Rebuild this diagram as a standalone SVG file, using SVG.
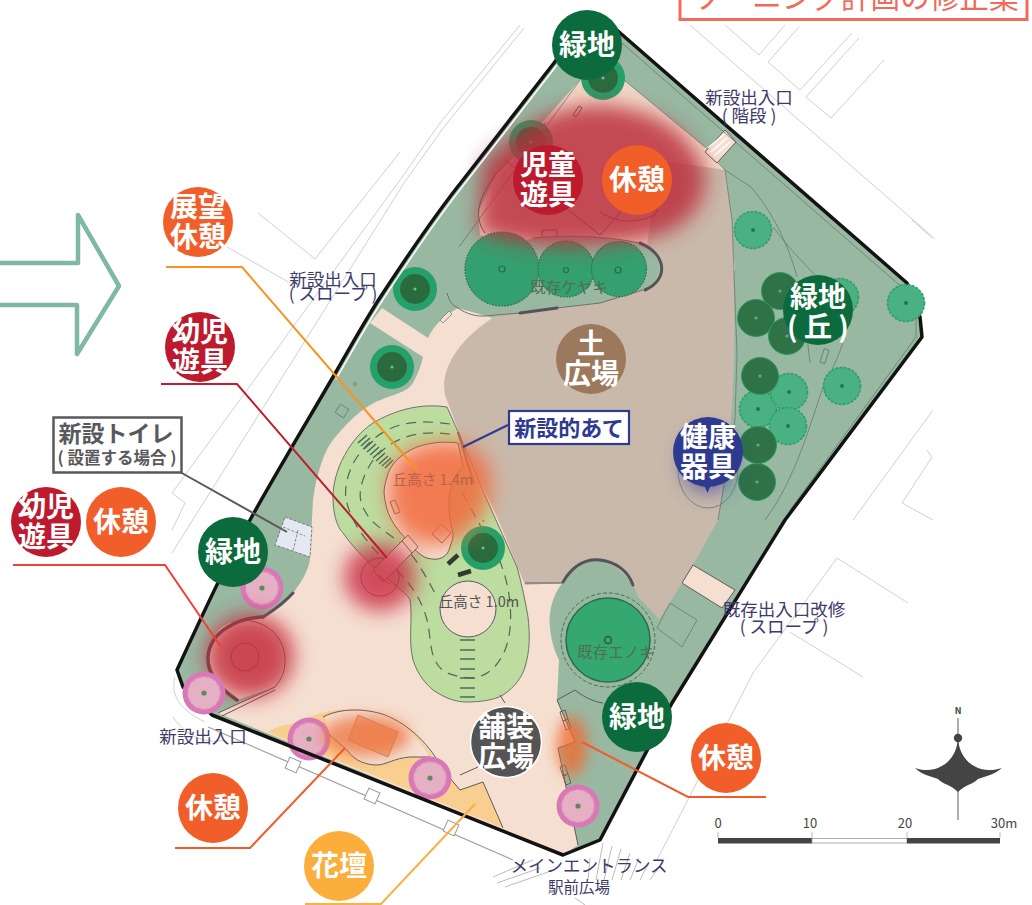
<svg xmlns="http://www.w3.org/2000/svg" width="1032" height="905" viewBox="0 0 1032 905">
<style>
text{font-family:"Noto Sans CJK JP","Noto Sans",sans-serif}
.site{fill:none;stroke:#c4c4c4;stroke-width:.8}
.thin{fill:none;stroke:#5f7468;stroke-width:.7}
.edge{fill:none;stroke:#5e5a5c;stroke-width:1}
.thick{fill:none;stroke:#55535a;stroke-width:3;stroke-linecap:round}
.dash{fill:none;stroke:#4d6b57;stroke-width:1.2;stroke-dasharray:10 7}
.lab{fill:#fff;font-weight:700;font-size:28px;text-anchor:middle}
.plan{fill:#3e3a6c;font-size:17.5px;text-anchor:middle}
.tree3{font-size:15.5px;text-anchor:middle;fill:#4f6f50}
.lead{fill:none;stroke-width:2}
.g{fill:#0b6b3c}.r{fill:#bd1a2e}.o{fill:#f25e29}.a{fill:#fcae3c}.b{fill:#9c785c}.n{fill:#2e3a8f}.k{fill:#545454}
.sc{fill:#444;font-size:13px;text-anchor:middle}
</style>
<defs>
<filter id="bl" x="-40%" y="-40%" width="180%" height="180%"><feGaussianBlur stdDeviation="10"/></filter>
<filter id="bl2" x="-40%" y="-40%" width="180%" height="180%"><feGaussianBlur stdDeviation="7"/></filter>
<g id="flower"><circle r="21.5" fill="#d878b6"/><circle r="16.500" fill="#e6b0c4" stroke="#dc88bb" stroke-width="1.500" stroke-dasharray="5 2"/><circle r="2.600" fill="#5f8a55"/></g>
<g id="dtree"><circle r="22" fill="#26a06a"/><circle r="15" fill="#2a6b3e"/><circle r="1.500" fill="#7cb89a"/></g>
<g id="dk"><circle r="18.500" fill="#2f7246" stroke="#2a9a62" stroke-width="1"/><circle r="1.600" fill="#6fa483"/></g>
<g id="br"><circle r="18.500" fill="#4ab282" stroke="#2e9e6b" stroke-width="1.600" stroke-dasharray="3 1.200"/><circle r="2" fill="#25754c"/></g>
</defs>

<g id="header">
<rect x="680" y="-12" width="347" height="31.500" fill="#fff" stroke="#f26a5a" stroke-width="3"/>
<text x="693" y="8" font-size="29.600" fill="#f26a5a">ゾーニング計画の修正案</text>
</g>

<path id="big-arrow" d="M0 263H78V215L119 286L77 354V305H0" fill="none" stroke="#7fb8a8" stroke-width="4.500" stroke-linejoin="round"/>

<g id="site-lines">
<path class="site" d="M690 25L935 239M725 25L759 55L785 25M768 62L800 90L852 33M768 62L799 27M806 97L831 118L884 60M806 97L859 38"/>
<path class="site" d="M520 25L440 123L400 180L172 493L185 503L172 530M524 28L444 127L404 183L172 553M258 213L315 259L400 152M227 247L290 283"/>
<path class="site" d="M912 220L932 238M933 410L853 520M927 450L932 457L902 503L933 520M837 558L908 603M837 558L753 673L657 860M790 632L863 677"/>
<path d="M208 727L513 860" fill="none" stroke="#a0a0a0" stroke-width="1.200"/>
<path class="site" d="M175 677C170 695 180 710 205 722M173 717C185 735 205 745 225 740"/>
<g fill="#fff" stroke="#999" stroke-width="1"><rect x="-6" y="-6" width="12" height="12" transform="translate(293 765) rotate(24)"/><rect x="-6" y="-6" width="12" height="12" transform="translate(372 796) rotate(24)"/><rect x="-6" y="-6" width="12" height="12" transform="translate(451 828) rotate(24)"/></g>
<path class="site" style="stroke:#aaa" d="M493 877L533 860M497 883L540 868M505 887L548 872M603 843L596 880M612 846L604 880M621 849L612 880M630 853L621 880M639 858L630 880M648 864L640 880M657 870L650 880M590 858L588 880M575 898L585 905"/>
</g>

<g id="park">
<path d="M576 33L603 18L907 283L920 317L922 337L785 520L672 703L600 840L563 855L212 715L183 687L177 670C200 620 225 565 250 520C275 475 305 425 333 377C350 348 365 320 383 293C410 252 435 215 463 180L554 63Z" fill="#98b8a2"/>
<path d="M580 80L624 80L705 147L725 170L735 270L640 300L480 235L478 213L497 173Z" fill="#f1d8c6"/>
<path d="M382 308L428 338Q436 320 458 308L500 320L600 520L560 640L557 700L575 742L558 748L578 845L563 855L218 713L275 687L237 700Q217 690 208 657Q212 628 230 623Q250 620 263 617Q285 607 293 593C305 578 310 565 310 557L313 500L315 487C320 465 325 450 333 440C345 425 355 415 367 407C385 395 405 395 413 383Q420 370 423 357L370 323Z" fill="#f5dfd1"/>
<path d="M497 315C457 340 440 370 445 395L463 443L497 517L525 585L562 583L640 620L657 623L682 583L693 565L718 520C735 420 737 353 732 220L725 170L660 160L640 290Z" fill="#c9b9aa"/>
<path d="M682 583L693 565L735 590L722 608Z" style="fill:#f5dfd1" class="edge"/>
<path d="M705 152L725 130L736 142L717 163Z" style="fill:#f5dfd1" class="edge"/>
<path d="M711 152L727 138M714 156L730 142M708 148L724 134" stroke="#fff" stroke-width="1.600"/>
<path class="thin" d="M718 163L725 170L732 220L737 353L735 420L718 520"/>
<path class="thin" d="M725 170L751 187C775 215 790 250 797 277M773 227C790 250 803 262 815 275M807 337L810 363M843 343C835 365 825 385 823 387C810 425 795 480 765 520M622 43L905 290M916 320L916 337L790 510"/>
<path class="thin" d="M580 80L459 247M624 80L705 147"/>
<path class="edge" d="M546 123L497 173C480 195 472 215 485 233M620 155C650 160 665 195 655 215C640 222 620 225 600 212"/>
<path class="edge" stroke-width=".6" d="M505 160L600 235L640 190M542 230h15v8h-15zM573 115l6 -9l3 2l-6 9z"/>

<path d="M447 407C420 403 395 410 373 423C350 438 333 470 333 497C333 520 340 530 343 533C355 550 365 558 373 567C395 585 408 595 410 600C413 620 408 640 413 660C418 675 425 683 433 690C445 698 455 702 467 702C480 702 495 700 503 695C515 687 522 677 525 667C530 650 530 635 528 617C525 600 522 585 517 567L487 500L463 443Z" style="fill:#bcdca0;stroke:#6c7466" class="edge"/>
<path d="M458 443C440 441 430 443 417 447C400 454 390 465 387 477C383 490 384 495 385 500C388 520 398 530 407 540C413 548 420 556 427 558C440 562 448 556 450 547C453 538 454 535 452 530C449 515 448 505 450 493C452 480 458 472 463 467Z" style="fill:#f5dfd1" class="edge"/>
<circle cx="468" cy="609" r="28" style="fill:#f5dfd1" class="edge"/>
<path class="dash" d="M450 424C420 420 385 418 357 457C345 475 344 495 347 503C352 525 372 550 393 567C410 582 422 600 427 620C432 640 428 660 445 672C465 680 490 685 505 650C515 625 510 590 503 570C497 552 488 530 483 520"/>
<path class="dash" d="M450 434C420 430 393 436 373 460C360 480 358 495 362 505C370 525 385 530 400 543C415 555 425 575 437 597M463 493C468 505 475 515 480 525L498 565"/>
<path d="M460 640h15M460 650h15M460 659h15M460 669h15M460 678h15M460 688h15M460 697h15" stroke="#4d6b57" stroke-width="1.500"/>
<path d="M358 443l9 -8M361 446l9 -8M364 449l9 -8M367 452l9 -8M370 455l9 -8M373 458l9 -8M376 461l9 -8M379 464l9 -8M382 466l9 -8M385 468l8 -8" stroke="#4d6b57" stroke-width="1.600"/>
<path d="M448 564l10 -9M458 575l13 -4" stroke="#2f3a33" stroke-width="4.500"/>

<path d="M497 315L520 313L557 308L600 303L643 290C663 280 668 255 640 243C600 235 560 235 533 238L495 250L460 285L447 293Q450 305 458 308Z" fill="#98b8a2"/>
<path class="edge" style="stroke:#7a6a6a" d="M458 308C475 320 490 315 497 315L520 313M557 308L600 303L643 290M640 243C600 235 560 235 533 238M447 293Q450 305 458 308"/>
<path class="thick" d="M520 313L557 308M640 243C668 255 668 280 645 290"/>
<g fill="#35a06f" stroke="#2a7a50" stroke-width="1.200" stroke-dasharray="2 1"><circle cx="502" cy="269" r="37"/><circle cx="566" cy="269" r="28"/><circle cx="619" cy="269" r="27.500"/></g>
<g fill="none" stroke="#2b6b48" stroke-width="1.200"><circle cx="502" cy="269" r="3"/><circle cx="566" cy="270" r="2.500"/><circle cx="618" cy="270" r="3"/></g>

<path d="M593 560C575 560 563 575 563 582C552 595 548 615 550 627C552 660 575 692 603 703L640 680L660 620L638 597C632 575 610 560 593 560Z" fill="#98b8a2"/>
<path class="thick" d="M563 582C575 562 590 559 600 560C615 562 628 570 633 585"/>
<circle cx="608" cy="640" r="47" fill="none" stroke="#4d6b57" stroke-width="1" stroke-dasharray="4 2"/>
<circle cx="608" cy="640" r="42" fill="#35a872" stroke="#2c6b48" stroke-width="1.500"/>
<circle cx="608" cy="640" r="3.500" fill="none" stroke="#2c5b40" stroke-width="1.500"/>
<path class="thin" d="M670 603L697 620L682 647L657 628Z"/>

<path d="M557 700L575 690L603 703L640 720L600 840L578 845L558 748L575 742Z" fill="#98b8a2"/>
<path class="edge" d="M557 700L575 690M557 700L575 742L558 748L578 845M575 690C585 698 595 702 603 703"/>
<path class="edge" stroke-width=".7" d="M560 712l5 -2l3 9l-5 2zM563 721l5 -2l3 9l-5 2zM560 767l5 -2l3 9l-5 2zM563 776l5 -2l3 9l-5 2zM525 583h37"/>
<path class="edge" d="M500 695L505 703M460 775L478 767"/>

<path d="M267 732C280 725 290 724 297 723C315 712 340 708 363 710C385 712 405 722 416 735C425 745 435 760 443 770L460 790L483 782L503 828Z" fill="#f8cf90"/>
<path d="M325 717C340 708 365 708 385 715C405 722 418 738 430 757L410 757C395 760 385 765 377 765C365 765 352 758 347 750L330 735Z" fill="#f5dfd1"/>
<path class="edge" d="M323 717C340 708 365 708 385 715C410 725 430 745 443 770L460 790L483 782L503 828M330 735L347 750C355 762 368 765 377 765C385 765 395 758 410 757L430 757"/>
<path d="M358 715L398 732L388 757L348 740Z" fill="#f0aa85" stroke="#aa7a60" stroke-width=".8"/>

<path class="edge" d="M240 620C270 620 285 640 285 660C285 672 282 678 275 687L218 713M275 690L222 716"/>
<circle cx="245" cy="657" r="14" class="edge"/>
<circle cx="380" cy="577" r="19" class="edge"/>
<path d="M373 570L408 535L418 547L383 582Z" fill="#f5dfd1" stroke="#7a5a5a" stroke-width="1"/>
<path d="M378 575L389 584M402 541L412 553" stroke="#7a5a5a" stroke-width="1"/>
<path class="thick" d="M263 617C240 618 210 630 208 657C207 675 222 690 237 700" style="stroke:#5a4a4e;stroke-width:3.500"/>
<path class="thick" d="M293 593C280 607 270 612 263 617"/>

<path d="M285 517L312 527L310 557L275 545Z" fill="#e4e8f0" stroke="#7a7a80" stroke-width="1" stroke-dasharray="3 1.500"/>
<path d="M283 527L305 536M298 530L293 551" stroke="#8a8a90" stroke-width="1" stroke-dasharray="3 1.500" fill="none"/>
<rect x="-5" y="-5" width="10" height="10" transform="translate(342 411) rotate(32)" class="thin"/>
<circle cx="355" cy="384" r="1.500" class="thin"/>
<path class="thin" style="fill:#f5dfd1" d="M440 320l9 -9l3 3l-9 9z"/>
<path d="M458 432l16 52" stroke="#a5675a" stroke-width="2.500"/>
<path class="edge" stroke-width=".7" d="M390 502l5 -2l5 12l-5 2zM441 524l10 9l-9 10l-10 -9z"/>
<rect x="-2" y="-7" width="5" height="14" transform="translate(824 356) rotate(18)" class="thin"/>
<ellipse cx="708" cy="470" rx="30" ry="38" class="thin"/>
<path d="M704 485h7l-3.500 8Z" fill="#2e3a8f"/>

<use href="#flower" x="262" y="588"/><use href="#flower" x="309" y="739"/><use href="#flower" x="430" y="778"/><use href="#flower" x="578" y="806"/>
<use href="#dtree" x="415" y="289"/><use href="#dtree" x="392" y="367"/><use href="#dtree" x="483" y="548"/><use href="#dtree" x="603" y="78"/><use href="#dtree" x="531" y="142"/>
<use href="#br" x="753" y="230"/><use href="#br" x="840" y="297"/><use href="#br" x="842" y="386"/><use href="#br" x="758" y="409"/><use href="#br" x="789" y="392"/><use href="#br" x="788" y="426"/>
<use href="#dk" x="780" y="291"/><use href="#dk" x="756" y="318"/><use href="#dk" x="787" y="336"/><use href="#dk" x="760" y="376"/><use href="#dk" x="758" y="445"/><use href="#dk" x="757" y="482"/>

<path d="M482 165Q535 105 600 105Q685 110 706 175Q705 228 640 240Q545 256 478 232Z" fill="#bb2f3e" opacity=".84" filter="url(#bl)"/>
<path d="M425 445C455 435 480 445 490 470C495 505 480 535 440 545C405 548 388 520 388 490C388 465 402 450 425 445Z" fill="#f26a3c" opacity=".85" filter="url(#bl)"/>
<ellipse cx="380" cy="577" rx="36" ry="34" fill="#c92f45" opacity=".82" filter="url(#bl)"/>
<ellipse cx="250" cy="656" rx="44" ry="42" fill="#c42f3d" opacity=".85" filter="url(#bl)"/>
<ellipse cx="366" cy="736" rx="44" ry="20" fill="#ee7440" opacity=".75" filter="url(#bl2)"/>
<ellipse cx="572" cy="746" rx="15" ry="30" fill="#f26a30" opacity=".8" filter="url(#bl2)"/>
<ellipse cx="708" cy="462" rx="26" ry="30" fill="#3a3f9a" opacity=".7" filter="url(#bl)"/>

<path fill="none" stroke="#fff" stroke-width="1.500" d="M336 379C353 350 368 322 386 295C413 254 438 217 466 182L557 65"/>
<path d="M576 33L603 18L907 283L920 317L922 337L785 520L672 703L600 840L563 855L212 715L183 687L177 670C200 620 225 565 250 520C275 475 305 425 333 377C350 348 365 320 383 293C410 252 435 215 463 180L554 63Z" fill="none" stroke="#131313" stroke-width="3.500" stroke-linejoin="round"/>
<use href="#flower" x="204" y="693"/><use href="#br" x="906" y="303"/>

<text class="tree3" x="569" y="293">既存ケヤキ</text>
<text class="tree3" x="616" y="658">既存エノキ</text>
<text x="433" y="485" font-size="14.500" text-anchor="middle" fill="#b5634a">丘高さ 1.4m</text>
<text x="479" y="607" font-size="14.500" text-anchor="middle" fill="#555">丘高さ 1.0m</text>
</g>

<g id="plan-labels">
<text class="plan" x="749" y="104">新設出入口</text><text class="plan" x="749" y="122">( 階段 )</text>
<text class="plan" x="333" y="286">新設出入口</text><text class="plan" x="333" y="300">( スロープ )</text>
<text class="plan" x="203" y="743">新設出入口</text>
<text class="plan" x="784" y="616">既存出入口改修</text><text class="plan" x="784" y="633">( スロープ )</text>
<text class="plan" x="589" y="872">メインエントランス</text>
<text class="plan" x="579" y="893" style="font-size:15.500px">駅前広場</text>
</g>

<g id="connectors">
<path class="lead" stroke="#f7941d" d="M166 267H242L417 470"/>
<path class="lead" stroke="#be1e2d" d="M161 384H237L387 558"/>
<path class="lead" stroke="#ef4136" d="M13 565H165L221 647"/>
<path class="lead" stroke="#f15a29" d="M175 848H250L345 748"/>
<path class="lead" stroke="#fbb040" d="M305 904H381L475 804"/>
<path class="lead" stroke="#f15a29" d="M582 742L688 797H766"/>
<path class="lead" stroke="#58595b" d="M180 472L287 532"/>
<path class="lead" stroke="#2e3a8f" d="M508 425L463 447"/>
</g>

<g id="n-ryokuchi1"><circle cx="587" cy="45" r="35" class="g"/><text class="lab" x="587" y="55">緑地</text></g>
<g id="n-jido"><circle cx="548" cy="180" r="35" class="r"/><text class="lab" x="548" y="175">児童</text><text class="lab" x="548" y="205">遊具</text></g>
<g id="n-kyukei1"><circle cx="637" cy="180" r="35" class="o"/><text class="lab" x="637" y="190">休憩</text></g>
<g id="n-tenbo"><circle cx="198" cy="222" r="35" class="o"/><text class="lab" x="198" y="217">展望</text><text class="lab" x="198" y="247">休憩</text></g>
<g id="n-yoji1"><circle cx="200" cy="347" r="35" class="r"/><text class="lab" x="200" y="342">幼児</text><text class="lab" x="200" y="372">遊具</text></g>
<g id="n-yoji2"><circle cx="46" cy="522" r="35" class="r"/><text class="lab" x="46" y="517">幼児</text><text class="lab" x="46" y="547">遊具</text></g>
<g id="n-kyukei2"><circle cx="121" cy="522" r="35" class="o"/><text class="lab" x="121" y="532">休憩</text></g>
<g id="n-ryokuchi2"><circle cx="233" cy="552" r="35" class="g"/><text class="lab" x="233" y="562">緑地</text></g>
<g id="n-oka"><circle cx="818" cy="310" r="35" class="g"/><text class="lab" x="818" y="307">緑地</text><text class="lab" x="818" y="337">( 丘 )</text></g>
<g id="n-tsuchi"><circle cx="591" cy="359" r="35" class="b"/><text class="lab" x="591" y="354">土</text><text class="lab" x="591" y="384">広場</text></g>
<g id="n-kenko"><circle cx="708" cy="452" r="35" class="n"/><text class="lab" x="708" y="447">健康</text><text class="lab" x="708" y="477">器具</text></g>
<g id="n-ryokuchi3"><circle cx="637" cy="717" r="35" class="g"/><text class="lab" x="637" y="727">緑地</text></g>
<g id="n-kyukei3"><circle cx="726" cy="758" r="35" class="o"/><text class="lab" x="726" y="768">休憩</text></g>
<g id="n-hoso"><circle cx="506" cy="742" r="35.500" class="k" stroke="#fff" stroke-width="1.500"/><text class="lab" x="506" y="737">舗装</text><text class="lab" x="506" y="767">広場</text></g>
<g id="n-kyukei4"><circle cx="213" cy="808" r="35" class="o"/><text class="lab" x="213" y="818">休憩</text></g>
<g id="n-kadan"><circle cx="339" cy="866" r="35" class="a"/><text class="lab" x="339" y="876">花壇</text></g>

<g id="n-toilet"><rect x="53.500" y="417.500" width="128" height="55" fill="#fff" stroke="#58595b" stroke-width="2.500"/>
<text x="116" y="442" font-size="23" font-weight="700" text-anchor="middle" fill="#58595b">新設トイレ</text>
<text x="117" y="464" font-size="16.500" font-weight="700" text-anchor="middle" fill="#58595b">( 設置する場合 )</text></g>
<g id="n-matoate"><rect x="509" y="411" width="120" height="33" fill="#fff" stroke="#2e3a8f" stroke-width="2.200"/>
<text x="569" y="436" font-size="22" font-weight="700" text-anchor="middle" fill="#2e3a8f">新設的あて</text></g>

<g id="scale">
<text class="sc" x="718" y="828">0</text><text class="sc" x="810" y="828">10</text><text class="sc" x="905" y="828">20</text><text class="sc" x="1004" y="828">30m</text>
<rect x="718" y="838" width="94" height="5.500" fill="#444"/><rect x="812" y="838.500" width="95" height="4.500" fill="#fff" stroke="#999" stroke-width=".8"/><rect x="907" y="838" width="93" height="5.500" fill="#444"/>
<path d="M718 832V838M812 832V838M907 832V838M1000 832V838" stroke="#aaa" stroke-width=".8"/>
</g>
<g id="north">
<text x="958" y="714" font-size="9" font-weight="700" text-anchor="middle" fill="#444">N</text>
<path d="M958 718V820" stroke="#777" stroke-width="1.200"/>
<circle cx="958" cy="738" r="4.200" fill="#444"/>
<path d="M958 740C956 755 948 765 935 769C928 771 920 770 915 768C922 775 930 776 938 779C944 785 950 784 958 792C966 784 972 785 978 779C986 776 994 775 1002 768C996 770 988 771 981 769C968 765 960 755 958 740Z" fill="#444"/>
</g>
</svg>
